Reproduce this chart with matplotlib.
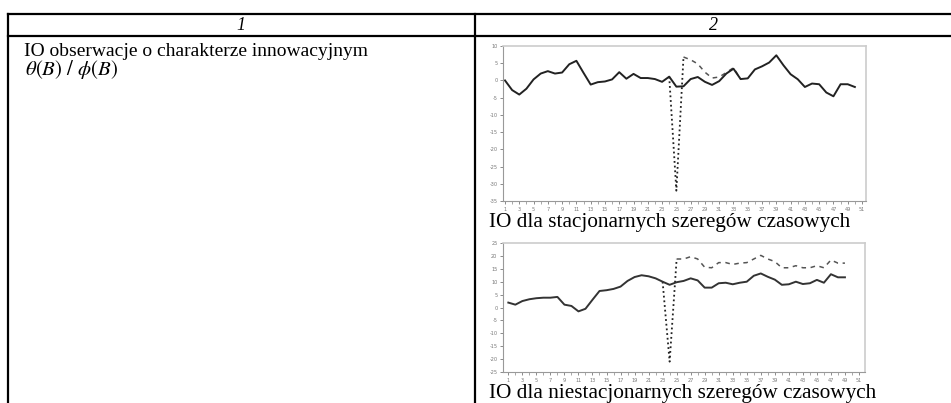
import numpy as np
import matplotlib
matplotlib.use("Agg")
import matplotlib.pyplot as plt
from matplotlib.lines import Line2D

# ---------------- data ----------------
x1 = list(range(1, 51))
stationary = [0.0, -2.8, -4.1, -2.4, 0.3, 2.0, 2.7, 2.0, 2.3, 4.7,
              5.7, 2.2, -1.2, -0.5, -0.3, 0.3, 2.4, 0.5, 1.9, 0.7,
              0.7, 0.4, -0.4, 1.1, -1.8, -1.7, 0.4, 1.0, -0.4, -1.3,
              -0.2, 2.0, 3.4, 0.4, 0.6, 3.2, 4.1, 5.2, 7.3, 4.4,
              1.8, 0.35, -1.9, -0.9, -1.1, -3.5, -4.6, -1.1, -1.1, -1.9]
# outlier (IO) path, stationary case: positions 24..34
io1_x = list(range(24, 35))
io1 = [1.1, -32.0, 6.8, 6.0, 4.8, 2.4, 0.7, 1.0, 2.3, 3.7, 0.4]

x2 = list(range(1, 50))
nonstationary = [1.9, 1.1, 2.5, 3.2, 3.6, 3.8, 3.8, 4.1, 1.1, 0.6,
                 -1.5, -0.5, 3.0, 6.4, 6.7, 7.2, 8.1, 10.3, 11.8, 12.5,
                 12.1, 11.3, 10.0, 8.8, 9.8, 10.3, 11.3, 10.5, 7.7, 7.7,
                 9.4, 9.6, 9.0, 9.6, 10.0, 12.3, 13.2, 11.9, 10.8, 8.8,
                 9.0, 10.0, 9.1, 9.4, 10.7, 9.6, 12.9, 11.7, 11.7]
# outlier (IO) path, non-stationary case: positions 23..49
io2_x = list(range(23, 50))
io2 = [10.0, -21.0, 18.8, 18.8, 19.7, 18.8, 15.6, 15.4, 17.4, 17.4,
       16.7, 17.2, 17.4, 18.8, 20.2, 18.8, 17.8, 15.4, 15.4, 16.2,
       15.4, 15.4, 16.2, 15.4, 18.4, 17.2, 17.2]

yticks1 = [10, 5, 0, -5, -10, -15, -20, -25, -30, -35]
yticks2 = [25, 20, 15, 10, 5, 0, -5, -10, -15, -20, -25]
xlabels = list(range(1, 52, 2))

header_left = "1"
header_right = "2"
cell_text = "IO obserwacje o charakterze innowacyjnym"
formula = r"$\theta(B)\ /\ \phi(B)$"
caption1 = "IO dla stacjonarnych szeregów czasowych"
caption2 = "IO dla niestacjonarnych szeregów czasowych"

# ---------------- figure ----------------
W, H = 951, 403
fig = plt.figure(figsize=(W / 100, H / 100), dpi=100)
fig.patch.set_facecolor("white")
plt.rcParams["mathtext.fontset"] = "stix"
serif = ["Liberation Serif", "DejaVu Serif"]


def fx(px):
    return px / W


def fy(py):
    return 1 - py / H


def hline(y, x0, x1_, lw=1.6):
    fig.add_artist(Line2D([fx(x0), fx(x1_)], [fy(y), fy(y)], color="black",
                          lw=lw, transform=fig.transFigure))


def vline(x, y0, y1, lw=1.6):
    fig.add_artist(Line2D([fx(x), fx(x)], [fy(y0), fy(y1)], color="black",
                          lw=lw, transform=fig.transFigure))


# table grid
hline(14, 8, 951)
hline(36, 8, 951)
vline(8, 14, 403)
vline(475, 14, 403)

fig.text(fx(241), fy(25), header_left, ha="center", va="center",
         fontsize=13, family=serif, style="italic")
fig.text(fx(713), fy(25), header_right, ha="center", va="center",
         fontsize=13, family=serif, style="italic")
fig.text(fx(24), fy(56), cell_text, ha="left", va="baseline",
         fontsize=14, family=serif)
fig.text(fx(25), fy(75), formula, ha="left", va="baseline", fontsize=15)


def style_axes(ax, yticks, xlo, xhi):
    ax.set_ylim(min(yticks), max(yticks))
    ax.set_xlim(xlo, xhi)
    ax.set_yticks(yticks)
    ax.set_yticklabels([str(t) for t in yticks])
    ax.set_xticks(xlabels)
    ax.set_xticklabels([str(t) for t in xlabels])
    ax.set_xticks(list(range(1, 52)), minor=True)
    ax.tick_params(axis="both", labelsize=3.6, colors="#777777", length=2,
                   width=0.6, pad=2)
    ax.tick_params(axis="x", which="minor", length=2, width=0.6,
                   colors="#999999")
    for s in ["top", "right"]:
        ax.spines[s].set_color("#cccccc")
        ax.spines[s].set_linewidth(1.2)
    for s in ["left", "bottom"]:
        ax.spines[s].set_color("#999999")
        ax.spines[s].set_linewidth(0.8)


# chart 1
ax1 = fig.add_axes([fx(503), fy(201), (866 - 503) / W, (201 - 46) / H])
ax1.plot(io1_x[:3], io1[:3], color="#222222", lw=1.3, ls=(0, (1, 1.6)))
ax1.plot(io1_x[2:], io1[2:], color="#555555", lw=1.1, ls=(0, (3, 3)))
ax1.plot(x1, stationary, color="#222222", lw=1.4)
style_axes(ax1, yticks1, 0.72, 51.56)

# chart 2
ax2 = fig.add_axes([fx(503), fy(372), (865 - 503) / W, (372 - 243) / H])
ax2.plot(io2_x[:3], io2[:3], color="#222222", lw=1.3, ls=(0, (1, 1.6)))
ax2.plot(io2_x[2:], io2[2:], color="#555555", lw=1.1, ls=(0, (3, 3)))
ax2.plot(x2, nonstationary, color="#333333", lw=1.4)
style_axes(ax2, yticks2, 0.24, 51.86)

fig.text(fx(489), fy(227), caption1, ha="left", va="baseline",
         fontsize=15.3, family=serif)
fig.text(fx(489), fy(398), caption2, ha="left", va="baseline",
         fontsize=15.3, family=serif)

fig.savefig("out.png", dpi=100)
